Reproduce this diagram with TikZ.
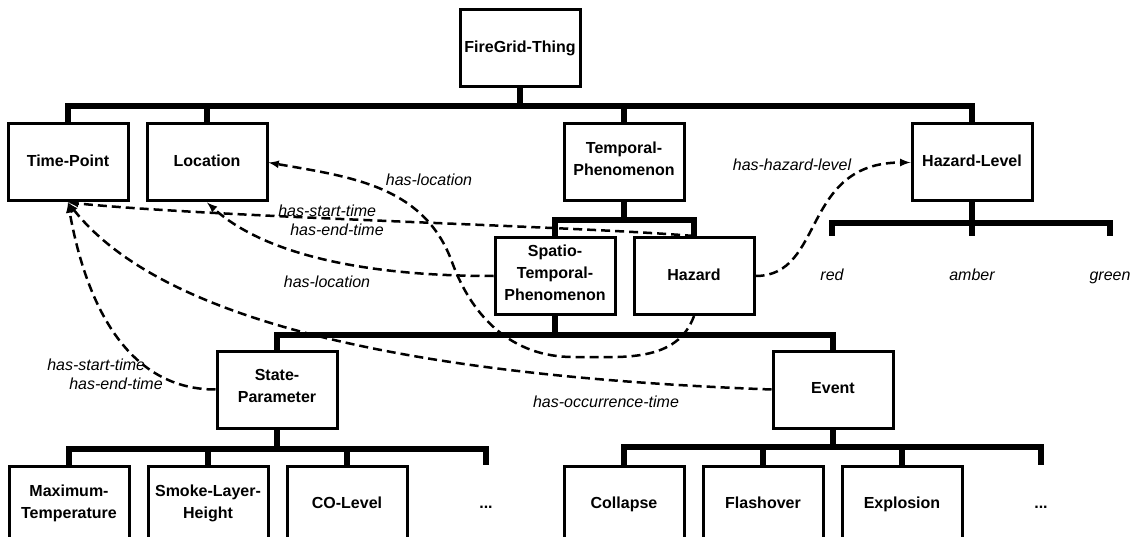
\documentclass[tikz,border=0pt]{standalone}
\usepackage{fontspec}
\setmainfont{Liberation Sans}
\usetikzlibrary{arrows}

\begin{document}
\begin{tikzpicture}[x=1pt, y=1pt,
  concept/.style={draw, line width=3pt, minimum width=120pt, minimum height=77pt, inner sep=0pt, align=center, font=\fontsize{16}{22}\selectfont\bfseries, execute at begin node=\strut, execute at end node=\strut},
  dotsbox/.style={concept, draw=none},
  value/.style={concept, draw=none, font=\fontsize{16}{19}\selectfont\itshape},
  tree/.style={line width=6pt},
  rel/.style={line width=2.5pt, dash pattern=on 9pt off 5pt, -latex},
  lbl/.style={font=\fontsize{16}{19}\selectfont\itshape, align=left, inner sep=0pt}]
  \useasboundingbox (0,0) rectangle (1137,-537);
  \clip (0,0) rectangle (1137,-537);
  % concepts
  \node[concept] (fg) at (520,-48.5) {FireGrid-Thing};
  \node[concept] (time) at (68,-162.5) {Time-Point};
  \node[concept] (loc) at (207,-162.5) {Location};
  \node[concept] (temp) at (624,-162.5) {Temporal-\\Phenomenon};
  \node[concept] (hlevel) at (972,-162.5) {Hazard-Level};
  \node[concept] (spatio) at (555,-276) {Spatio-\\Temporal-\\Phenomenon};
  \node[concept] (hazard) at (694,-276) {Hazard};
  \node[concept] (state) at (277,-389.5) {State-\\Parameter};
  \node[concept] (event) at (833,-389.5) {Event};
  \node[concept] (maxt) at (69,-504.5) {Maximum-\\Temperature};
  \node[concept] (smoke) at (208,-504.5) {Smoke-Layer-\\Height};
  \node[concept] (co) at (347,-504.5) {CO-Level};
  \node[dotsbox] (moreS) at (486,-504.5) {...};
  \node[concept] (collapse) at (624,-504.5) {Collapse};
  \node[concept] (flash) at (763,-504.5) {Flashover};
  \node[concept] (explo) at (902,-504.5) {Explosion};
  \node[dotsbox] (moreE) at (1041,-504.5) {...};
  % hazard levels
  \node[value] (red) at (832,-276.5) {red};
  \node[value] (amber) at (972,-276.5) {amber};
  \node[value] (green) at (1110,-276.5) {green};
  % subclass tree
  \foreach \c in {time,loc,temp,hlevel} \draw[tree] (fg.south) -- ++(0,-18) -| (\c.north);
  \foreach \c in {spatio,hazard} \draw[tree] (temp.south) -- ++(0,-18) -| (\c.north);
  \foreach \c in {state,event} \draw[tree] (spatio.south) -- ++(0,-19) -| (\c.north);
  \foreach \c in {maxt,smoke,co,moreS} \draw[tree] (state.south) -- ++(0,-19) -| (\c.north);
  \foreach \c in {collapse,flash,explo,moreE} \draw[tree] (event.south) -- ++(0,-17) -| (\c.north);
  \foreach \c in {red,amber,green} \draw[tree] (hlevel.south) -- ++(0,-21) -| (\c.north);
  % relations
  \draw[rel] (spatio.west) .. controls +(-150,0) and +(50,-45) .. (loc.south);
  \draw[rel] (hazard.south) to[out=-110,in=0] (573,-357) to[out=180,in=-70] (452,-262) to[out=110,in=-10] (loc.east);
  \draw[rel] (hazard.north) .. controls +(-120,10) and +(150,-15) .. (time.south);
  \draw[rel] (state.west) to[out=180,in=-80] (time.south);
  \draw[rel] (event.west) .. controls +(-323,12) and +(102,-129) .. (time.south);
  \draw[rel] (hazard.east) .. controls +(70,0) and +(-110,0) .. (hlevel.west);
  % relation labels
  \node[lbl] (l1) at (429,-180) {has-location};
  \node[lbl] (l2) at (331,-220) {has-start-time\\\hspace*{12pt}has-end-time};
  \node[lbl] (l3) at (327,-282) {has-location};
  \node[lbl] (l4) at (105,-374) {has-start-time\\\hspace*{22pt}has-end-time};
  \node[lbl] (l5) at (606,-402) {has-occurrence-time};
  \node[lbl] (l6) at (792,-165) {has-hazard-level};
\end{tikzpicture}
\end{document}
